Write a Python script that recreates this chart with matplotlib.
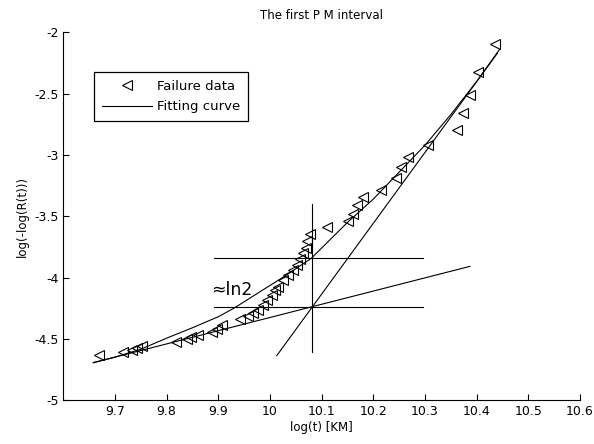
import numpy as np
import matplotlib
matplotlib.use('Agg')
import matplotlib.pyplot as plt

plt.rcParams['font.family'] = ['DejaVu Sans']
plt.rcParams['axes.unicode_minus'] = False

# failure data: log(t), log(-log(R(t)))
x_data = [9.670, 9.716, 9.732, 9.742, 9.752, 9.819, 9.839, 9.848, 9.861, 9.887,
          9.897, 9.907, 9.942, 9.958, 9.968, 9.977, 9.987, 9.994, 10.003, 10.010,
          10.016, 10.026, 10.035, 10.045, 10.052, 10.058, 10.064, 10.070, 10.072, 10.077,
          10.110, 10.150, 10.161, 10.168, 10.179, 10.215, 10.244, 10.253, 10.268, 10.305,
          10.361, 10.374, 10.388, 10.403, 10.435]
y_data = [-4.630, -4.605, -4.588, -4.572, -4.560, -4.525, -4.505, -4.485, -4.470, -4.442,
          -4.418, -4.390, -4.340, -4.318, -4.292, -4.262, -4.225, -4.185, -4.145, -4.105,
          -4.075, -4.022, -3.982, -3.940, -3.898, -3.845, -3.800, -3.762, -3.700, -3.645,
          -3.590, -3.537, -3.478, -3.410, -3.342, -3.282, -3.192, -3.102, -3.016, -2.915,
          -2.797, -2.661, -2.511, -2.321, -2.095]

# fitting curve
x_fit = [9.658, 9.70, 9.75, 9.80, 9.85, 9.90, 9.93, 9.98, 10.03, 10.08,
         10.15, 10.20, 10.25, 10.30, 10.35, 10.40, 10.444]
y_fit = [-4.695, -4.650, -4.585, -4.495, -4.410, -4.320, -4.251, -4.118, -3.985, -3.843,
         -3.550, -3.360, -3.140, -2.920, -2.670, -2.400, -2.140]

# asymptotes and guide lines
x_low = [9.658, 10.387]
y_low = [-4.695, -3.909]
x_steep = [10.013, 10.440]
y_steep = [-4.638, -2.170]
x_vert = [10.081, 10.081]
y_vert = [-3.40, -4.61]
x_horiz = [9.892, 10.297]
y_upper = [-3.843, -3.843]
y_lower = [-4.243, -4.243]

x_ticks = [9.7, 9.8, 9.9, 10.0, 10.1, 10.2, 10.3, 10.4, 10.5, 10.6]
x_labels = ['9.7', '9.8', '9.9', '10', '10.1', '10.2', '10.3', '10.4', '10.5', '10.6']
y_ticks = [-5, -4.5, -4, -3.5, -3, -2.5, -2]
y_labels = ['-5', '-4.5', '-4', '-3.5', '-3', '-2.5', '-2']

fig = plt.figure(figsize=(5.94, 4.44), dpi=100)
ax = fig.add_axes([0.1066, 0.099, 0.8699, 0.828])

ax.plot(x_data, y_data, linestyle='none', marker='<', markersize=7.5,
        markerfacecolor='none', markeredgecolor='black', markeredgewidth=0.8,
        label='Failure data')
ax.plot(x_fit, y_fit, color='black', linewidth=0.8, label='Fitting curve')
ax.plot(x_low, y_low, color='black', linewidth=0.8)
ax.plot(x_steep, y_steep, color='black', linewidth=0.8)
ax.plot(x_vert, y_vert, color='black', linewidth=0.8)
ax.plot(x_horiz, y_upper, color='black', linewidth=0.8)
ax.plot(x_horiz, y_lower, color='black', linewidth=0.8)

ax.text(9.887, -4.10, '≈ln2', fontsize=12.5, va='center', ha='left')

ax.set_xlim(9.6, 10.6)
ax.set_ylim(-5, -2)
ax.set_xticks(x_ticks)
ax.set_xticklabels(x_labels)
ax.set_yticks(y_ticks)
ax.set_yticklabels(y_labels)
ax.tick_params(direction='in', length=4, width=0.8, labelsize=9)
ax.spines['top'].set_visible(False)
ax.spines['right'].set_visible(False)

ax.set_xlabel('log(t) [KM]', fontsize=8.5, labelpad=2)
ax.set_ylabel('log(-log(R(t)))', fontsize=8.5, labelpad=4)
ax.set_title('The first P M interval', fontsize=8.5, pad=10)

leg = ax.legend(loc='upper left', bbox_to_anchor=(0.059, 0.892), borderaxespad=0,
                fontsize=9.5, fancybox=False, edgecolor='black', framealpha=1,
                handlelength=3.8, handletextpad=0.4, borderpad=0.6,
                labelspacing=0.55)
leg.get_frame().set_linewidth(0.9)

fig.savefig('out.png', dpi=100)
